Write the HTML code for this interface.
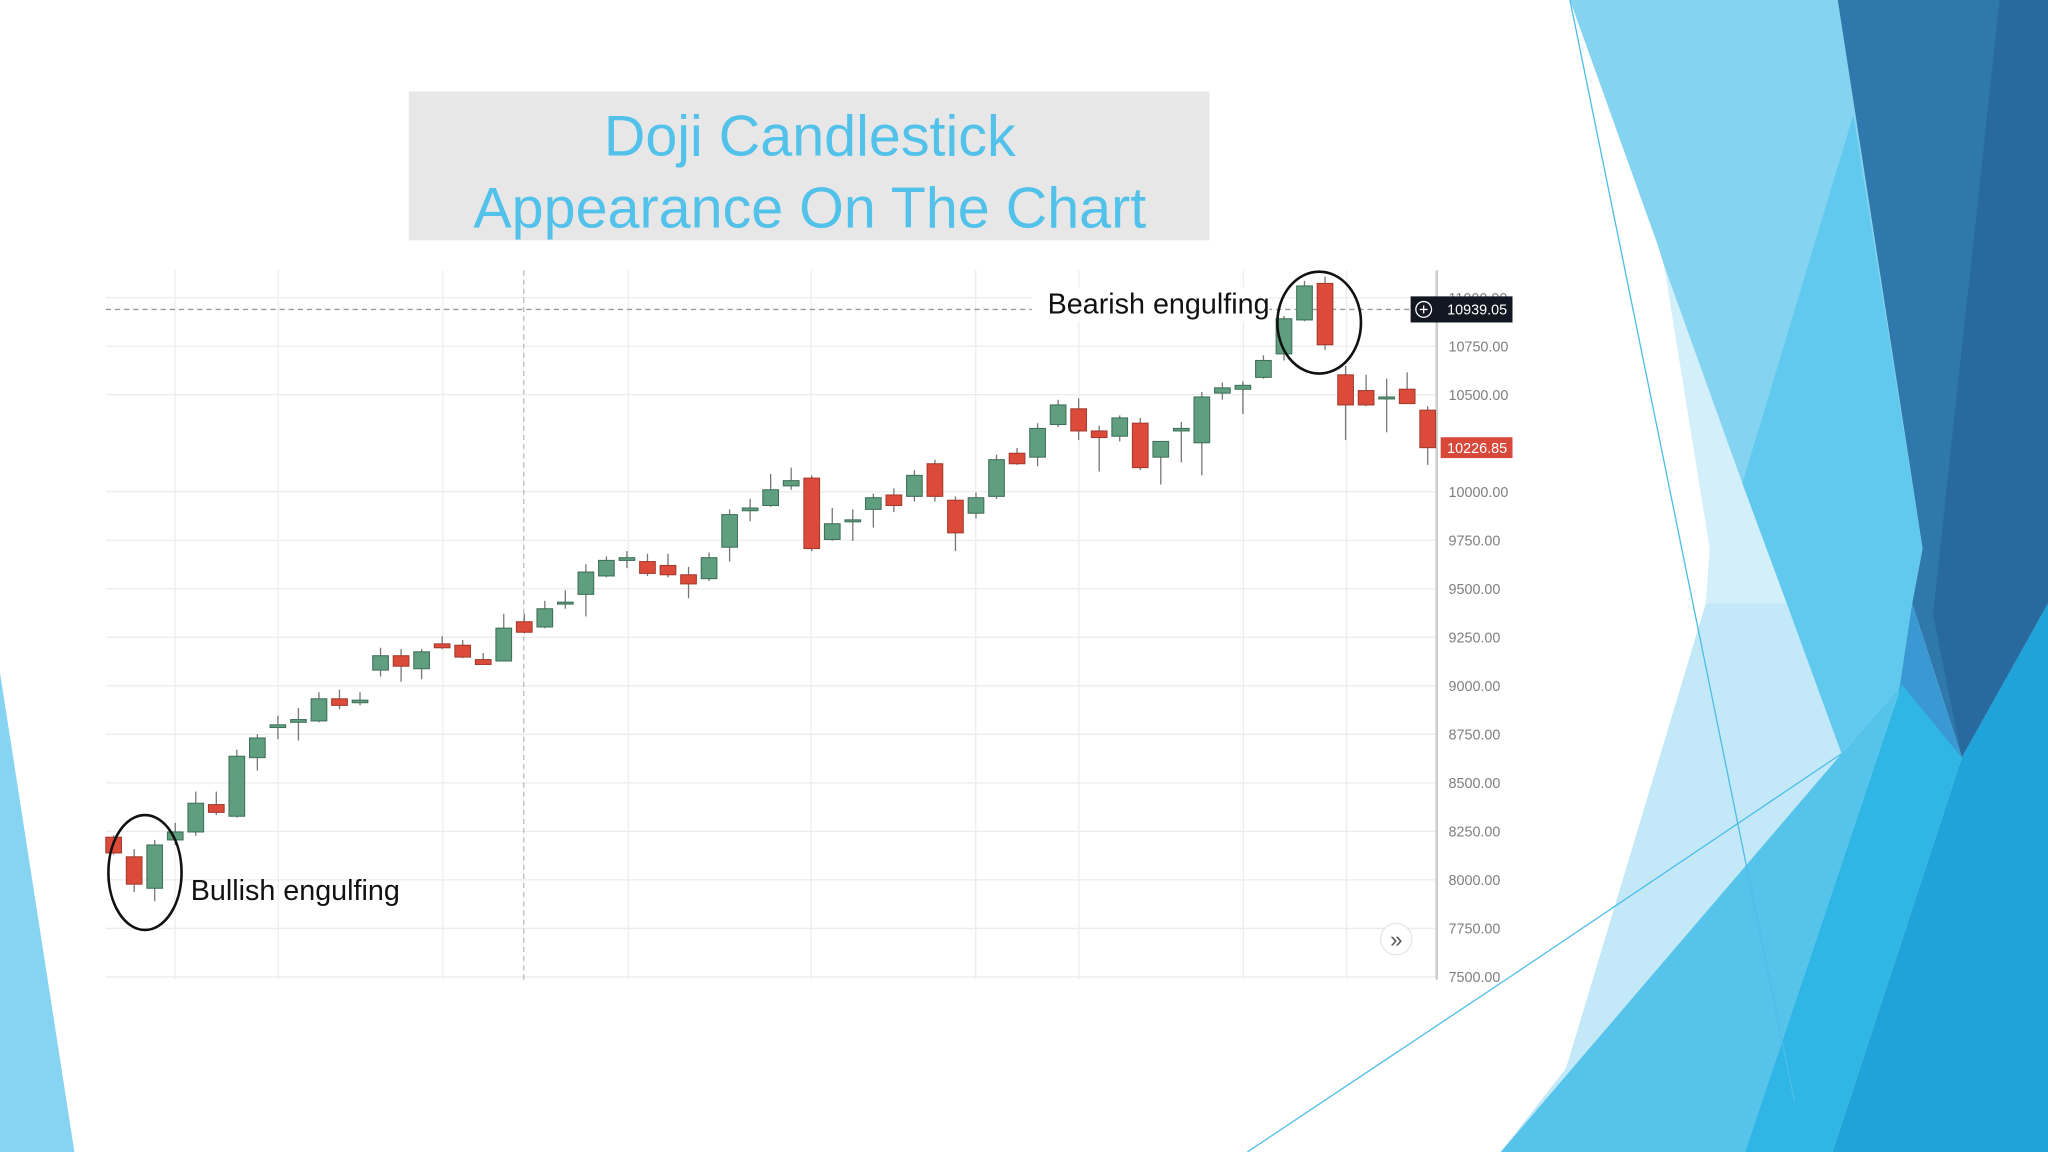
<!DOCTYPE html>
<html><head><meta charset="utf-8"><style>
html,body{margin:0;padding:0;background:#fff;}
svg{display:block;}
text{font-family:"Liberation Sans",sans-serif;}
</style></head><body>
<svg id="s" width="2048" height="1152" viewBox="0 0 1568 882" xmlns="http://www.w3.org/2000/svg">
<g>
<polygon points="0,515 57,882 0,882" fill="#86d4f2"/>
<polygon points="1269,187 1334,370 1368,462 1410,577 1149,882 1199,818 1306,462 1309,420 1274,203" fill="#d3effa"/>
<polygon points="1306,462 1368,462 1410,577 1149,882 1199,818" fill="#c3e9f8"/>
<polygon points="1202,0 1407,0 1472,420 1410,577 1368,462 1334,370 1274,203 1269,187" fill="#84d3f1"/>
<polygon points="1419,88 1472,420 1464,462 1456,524 1410,577 1368,462 1334,370" fill="#62c9ee"/>
<polygon points="1407,0 1568,0 1568,462 1502,580 1464,462 1472,420" fill="#2f78ab"/>
<polygon points="1531,0 1568,0 1568,462 1502,580 1480,470" fill="#2869a0"/>
<polygon points="1149,882 1410,577 1456,524 1336,882" fill="#56c3ea"/>
<polygon points="1464,462 1502,580 1427,711" fill="#3a98d2"/>
<polygon points="1336,882 1456,524 1502,580 1403,882" fill="#2fb6e4"/>
<polygon points="1403,882 1502,580 1568,462 1568,882" fill="#1fa3d8"/>
<line x1="1202" y1="0" x2="1374" y2="844" stroke="#4cbde8" stroke-width="1"/>
<line x1="955" y1="882" x2="1159" y2="746" stroke="#4cbde8" stroke-width="1"/>
<line x1="1159" y1="746" x2="1410" y2="577" stroke="#4cbde8" stroke-width="1"/>
</g>
<g>
<rect x="313" y="70" width="613" height="114" fill="#e7e7e7"/>
<text x="620" y="119" text-anchor="middle" font-size="44" fill="#52c2ea">Doji Candlestick</text>
<text x="620" y="174" text-anchor="middle" font-size="44" fill="#52c2ea">Appearance On The Chart</text>
</g>
<g id="chart"></g>
</svg>
<script>
const categories = Array.from({length:65},(_,i)=>'D'+(i+1));
const opens  = [8220,8119,7957,8206,8247,8388,8328,8630,8785,8812,8819,8933,8913,9081,9155,9088,9216,9209,9135,9128,9330,9303,9424,9471,9566,9646,9640,9620,9572,9552,9714,9902,9929,10030,10070,9754,9848,9909,9983,9976,10144,9956,9889,9976,10198,10178,10346,10427,10313,10286,10353,10178,10313,10252,10508,10528,10589,10710,10885,11073,10602,10521,10481,10528,10420];
const highs  = [8230,8159,8206,8294,8455,8455,8671,8751,8846,8886,8967,8980,8967,9196,9189,9189,9256,9236,9169,9371,9371,9438,9492,9626,9667,9694,9680,9680,9613,9687,9909,9963,10091,10124,10084,9916,9909,9990,10017,10111,10165,9976,9996,10191,10225,10353,10474,10481,10340,10393,10380,10259,10360,10514,10562,10568,10703,10905,11086,11107,10649,10602,10582,10615,10440];
const lows   = [8130,7937,7890,8180,8227,8334,8321,8563,8725,8718,8812,8879,8899,9048,9021,9034,9189,9142,9108,9128,9270,9297,9397,9357,9559,9606,9566,9559,9451,9540,9640,9848,9922,10010,9694,9747,9747,9815,9895,9949,9949,9694,9862,9963,10138,10131,10333,10266,10104,10259,10111,10037,10151,10084,10474,10400,10582,10676,10878,10730,10266,10440,10306,10454,10138];
const closes = [8139,7978,8180,8247,8395,8348,8637,8731,8799,8826,8933,8899,8926,9155,9101,9175,9196,9148,9110,9297,9276,9397,9431,9586,9646,9660,9579,9572,9525,9660,9882,9916,10010,10057,9707,9835,9855,9969,9929,10084,9976,9788,9969,10165,10144,10326,10447,10313,10279,10380,10124,10259,10326,10488,10535,10548,10676,10891,11060,10757,10447,10447,10488,10454,10226.85];
const yTicks = [7500,7750,8000,8250,8500,8750,9000,9250,9500,9750,10000,10250,10500,10750,11000];
const crosshairValue = 10939.05;

const NS='http://www.w3.org/2000/svg';
const g=document.getElementById('chart');
const yS=p=>265+(10750-p)/6.729;
const xS=i=>87+i*15.72;
function mk(tag,attrs,parent){const e=document.createElementNS(NS,tag);for(const k in attrs)e.setAttribute(k,attrs[k]);(parent||g).appendChild(e);return e;}
const L=81,R=1100,T=207,B=750;
const grid=mk('g',{});


yTicks.forEach(v=>{if(v===10250)return;const y=yS(v);mk('line',{x1:L,x2:R,y1:y,y2:y,stroke:'#ececec','stroke-width':1},grid);});
[134,213,339,481,621,747,826,952,1031].forEach(x=>mk('line',{x1:x,x2:x,y1:T,y2:B,stroke:'#ededed','stroke-width':1},grid));
mk('line',{x1:401,x2:401,y1:T,y2:B,stroke:'#bbb','stroke-width':1,'stroke-dasharray':'4 3'},grid);
const cy=yS(crosshairValue);
const ch=mk('line',{x1:L,x2:1080,y1:cy,y2:cy,stroke:'#999','stroke-width':1,'stroke-dasharray':'4 3'});


const ax=mk('line',{x1:R,x2:R,y1:T,y2:B,stroke:'#ccc','stroke-width':2});


yTicks.forEach(v=>{const t=mk('text',{x:1109,y:yS(v)+4,'font-size':11,fill:'#808080'});t.textContent=v.toFixed(2);

});
opens.forEach((o,i)=>{
 const c=closes[i],up=c>=o,x=xS(i);
 const col=up?'#5f9f80':'#dc4a3a',st=up?'#3f6f58':'#a33a2d';
 const cg=mk('g',{});
 
 
 mk('line',{x1:x,x2:x,y1:yS(highs[i]),y2:yS(lows[i]),stroke:'#777','stroke-width':1},cg);
 const top=yS(Math.max(o,c)),bot=yS(Math.min(o,c));
 mk('rect',{x:x-6,y:top,width:12,height:Math.max(1.5,bot-top),fill:col,stroke:st,'stroke-width':0.8},cg);
});
const lab=mk('g',{});


mk('rect',{x:1080,y:cy-10,width:78,height:20,fill:'#131722'},lab);
mk('circle',{cx:1090,cy:cy,r:6,fill:'none',stroke:'#fff','stroke-width':1},lab);
mk('path',{d:`M1087 ${cy}h6M1090 ${cy-3}v6`,stroke:'#fff','stroke-width':1},lab);
const ct=mk('text',{x:1108,y:cy+4,'font-size':11,fill:'#fff'},lab);ct.textContent=crosshairValue.toFixed(2);
const lastY=yS(closes[closes.length-1]);
const ll=mk('g',{});


mk('rect',{x:1103,y:lastY-8,width:55,height:16,fill:'#d9493b'},ll);
const lt=mk('text',{x:1108,y:lastY+4,'font-size':11,fill:'#fff'},ll);lt.textContent=closes[closes.length-1].toFixed(2);
const sb=mk('g',{});


mk('circle',{cx:1069,cy:719,r:12,fill:'#fff',stroke:'#e6e6e6'},sb);
const st=mk('text',{x:1069,y:725,'font-size':17,fill:'#555','text-anchor':'middle'},sb);st.textContent='»';
const a1=mk('ellipse',{cx:111,cy:668,rx:28,ry:44,fill:'none',stroke:'#111','stroke-width':2});


const t1=mk('text',{x:146,y:689,'font-size':22,fill:'#111'});t1.textContent='Bullish engulfing';


const a2=mk('ellipse',{cx:1010,cy:247,rx:32,ry:39,fill:'none',stroke:'#111','stroke-width':2});


const wb=mk('rect',{x:790,y:220,width:182,height:26,fill:'#fff'});


const t2=mk('text',{x:972,y:240,'font-size':22,fill:'#111','text-anchor':'end'});t2.textContent='Bearish engulfing';


</script>
</body></html>
